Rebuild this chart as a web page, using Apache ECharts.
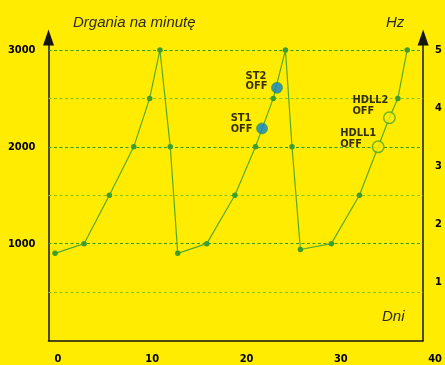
<!DOCTYPE html>
<html>
<head>
<meta charset="utf-8">
<script src="https://cdn.jsdelivr.net/npm/echarts@6/dist/echarts.min.js"></script>
<style>
  html, body { margin: 0; padding: 0; background: #ffec00; }
  #chart { width: 445px; height: 365px; }
</style>
</head>
<body>
<div id="chart"></div>
<script>
// Vibration readings per day (three ramp-up cycles)
const days = [-0.3, 2.8, 5.5, 8.1, 9.8, 10.9, 12.0, 12.8, 15.9, 18.9, 21.1, 23.0, 24.3, 25.0, 25.9, 29.2, 32.2, 34.2, 35.4, 36.3, 37.3];
const vibrations = [900, 1000, 1500, 2000, 2500, 3000, 2000, 900, 1000, 1500, 2000, 2500, 3000, 2000, 940, 1000, 1500, 2000, 2300, 2500, 3000];

// Switch-off events
const stNames = ['ST1', 'ST2'];
const stDays = [21.8, 23.4];
const stValues = [2190, 2610];
const hdllNames = ['HDLL1', 'HDLL2'];
const hdllDays = [34.2, 35.4];
const hdllValues = [2000, 2300];

// Axis ticks and reference lines
const dayTicks = [0, 10, 20, 30, 40];
const vibTickLabels = [1000, 2000, 3000];
const hzTickLabels = [1, 2, 3, 4, 5];
const majorGrid = [1000, 2000, 3000];
const minorGrid = [500, 1500, 2500];

// Label placement for the event callouts (relative to the marker box)
const stLabelPos = [[-25.5, -9.5], [-25.5, -11]];
const hdllLabelPos = [[-31.5, -12], [-30.5, -16]];

const BG = '#ffec00';
const AXIS = '#151515';
const labelFont = { fontFamily: 'DejaVu Sans Condensed', fontWeight: 'bold', fontSize: 11, color: '#000' };
const titleFont = { fontFamily: 'Liberation Sans', fontStyle: 'italic', fontWeight: 'normal', fontSize: 15, lineHeight: 18, color: '#2a2a2a' };

const VMAX = 3130;              // left axis runs a little past 3000 to carry the arrow
const HZMAX = VMAX / 600;       // 3000 <-> 5 Hz

const hdllSet = new Set(hdllDays);
const lineData = days.map((d, i) => {
  const item = { value: [d, vibrations[i]] };
  if (hdllSet.has(d)) item.symbol = 'none';
  return item;
});

const gridLineData = majorGrid.map(v => ({ yAxis: v, lineStyle: { color: '#2f9c2a' } }))
  .concat(minorGrid.map(v => ({ yAxis: v, lineStyle: { color: '#8cc41c' } })));

const chart = echarts.init(document.getElementById('chart'), null, { renderer: 'canvas' });
chart.setOption({
  backgroundColor: BG,
  animation: false,
  title: [
    { text: 'Drgania na minutę', left: 73, top: 14, padding: 0, textStyle: titleFont },
    { text: 'Hz', left: 386, top: 14, padding: 0, textStyle: titleFont },
    { text: 'Dni', left: 382, top: 308, padding: 0, textStyle: titleFont }
  ],
  grid: [
    { left: 48.5, top: 37.4, width: 378.5, height: 303.1 },
    { left: 48.5, top: 37.4, width: 397.4, height: 303.1 }
  ],
  xAxis: [
    {
      type: 'value', gridIndex: 0, min: -1, max: 39,
      axisLine: { show: true, onZero: false, lineStyle: { color: AXIS, width: 1.5 } },
      axisTick: { show: false }, axisLabel: { show: false }, splitLine: { show: false }
    },
    {
      type: 'value', gridIndex: 1, min: -1, max: 41,
      axisLine: { show: false }, axisTick: { show: false }, splitLine: { show: false },
      axisLabel: Object.assign({ customValues: dayTicks, margin: 15 }, labelFont)
    }
  ],
  yAxis: [
    {
      type: 'value', gridIndex: 0, position: 'left', min: 0, max: VMAX, interval: 500,
      axisLine: { show: true, onZero: false, symbol: ['none', 'triangle'], symbolSize: [11, 16], lineStyle: { color: AXIS, width: 1.5 } },
      axisTick: { show: false }, splitLine: { show: false },
      axisLabel: Object.assign({ margin: 13, formatter: v => vibTickLabels.includes(v) ? String(v) : '' }, labelFont)
    },
    {
      type: 'value', gridIndex: 0, position: 'right', min: 0, max: HZMAX, interval: 1,
      axisLine: { show: true, onZero: false, symbol: ['none', 'triangle'], symbolSize: [11, 16], lineStyle: { color: AXIS, width: 1.5 } },
      axisTick: { show: false }, splitLine: { show: false },
      axisLabel: Object.assign({ margin: 12, formatter: v => hzTickLabels.includes(v) ? String(v) : '' }, labelFont)
    },
    { type: 'value', gridIndex: 1, min: 0, max: VMAX, show: false }
  ],
  series: [
    {
      type: 'line', xAxisIndex: 0, yAxisIndex: 0, z: 3,
      data: lineData,
      symbol: 'circle', symbolSize: 5.5,
      lineStyle: { color: '#58a92a', width: 1.2 },
      itemStyle: { color: '#3c9e2e' },
      markLine: {
        silent: true, symbol: 'none', z: 1,
        label: { show: false },
        lineStyle: { type: [3, 2.5], width: 1.2 },
        data: gridLineData
      }
    },
    {
      type: 'scatter', xAxisIndex: 0, yAxisIndex: 0, z: 5,
      symbol: 'circle', symbolSize: 11,
      itemStyle: { color: '#0a82d2', borderColor: '#3a9a30', borderWidth: 0.8 },
      data: stNames.map((n, i) => ({
        name: n, value: [stDays[i], stValues[i]],
        label: { position: stLabelPos[i] }
      })),
      label: Object.assign({
        show: true, align: 'left', verticalAlign: 'top', lineHeight: 10.5,
        formatter: p => p.name + '\nOFF'
      }, labelFont)
    },
    {
      type: 'scatter', xAxisIndex: 0, yAxisIndex: 0, z: 5,
      symbol: 'circle', symbolSize: 11.5,
      itemStyle: { color: BG, borderColor: '#4aa52a', borderWidth: 1.5 },
      data: hdllNames.map((n, i) => ({
        name: n, value: [hdllDays[i], hdllValues[i]],
        label: { position: hdllLabelPos[i] }
      })),
      label: Object.assign({
        show: true, align: 'left', verticalAlign: 'top', lineHeight: 10.5,
        formatter: p => p.name + '\nOFF'
      }, labelFont)
    }
  ]
});
</script>
</body>
</html>
